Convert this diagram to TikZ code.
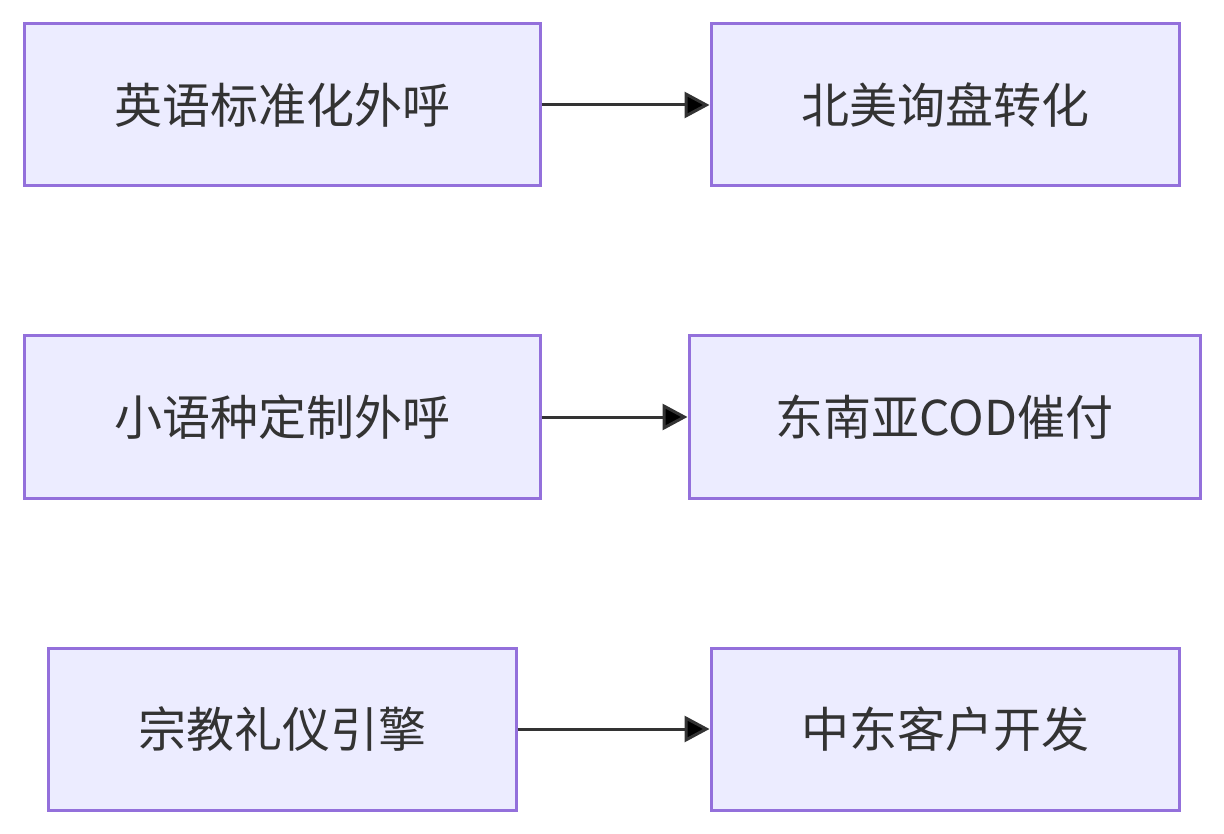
\documentclass[tikz,border=0pt]{standalone}
\usepackage{fontspec}
\setmainfont{Noto Sans CJK SC}
\usepackage{tikz}
\usetikzlibrary{arrows.meta}
\definecolor{boxfill}{HTML}{ECECFF}
\definecolor{boxline}{HTML}{9370DB}
\definecolor{ink}{HTML}{333333}
\tikzset{
  flowbox/.style={draw=boxline, fill=boxfill, line width=3pt, inner sep=0pt,
    minimum height=162pt, text=ink, font=\fontsize{48}{52}\selectfont},
  flowarrow/.style={draw=ink, line width=3pt, -{Triangle[length=25pt,width=26pt]}}
}
\begin{document}
\begin{tikzpicture}[x=1pt,y=-1pt]
    \useasboundingbox (0,0) rectangle (1224,834);
    \node[flowbox, minimum width=516pt] (En) at (282,105) {英语标准化外呼};
    \node[flowbox, minimum width=468pt] (NA) at (945,105) {北美询盘转化};
    \node[flowbox, minimum width=516pt] (Mi) at (282,417) {小语种定制外呼};
    \node[flowbox, minimum width=511pt] (SEA) at (944.5,417) {东南亚COD催付};
    \node[flowbox, minimum width=468pt] (Re) at (282,729) {宗教礼仪引擎};
    \node[flowbox, minimum width=468pt] (ME) at (945,729) {中东客户开发};
    \path [flowarrow] (En) edge (NA);
    \path [flowarrow] (Mi) edge (SEA);
    \path [flowarrow] (Re) edge (ME);
  \end{tikzpicture}
\end{document}
